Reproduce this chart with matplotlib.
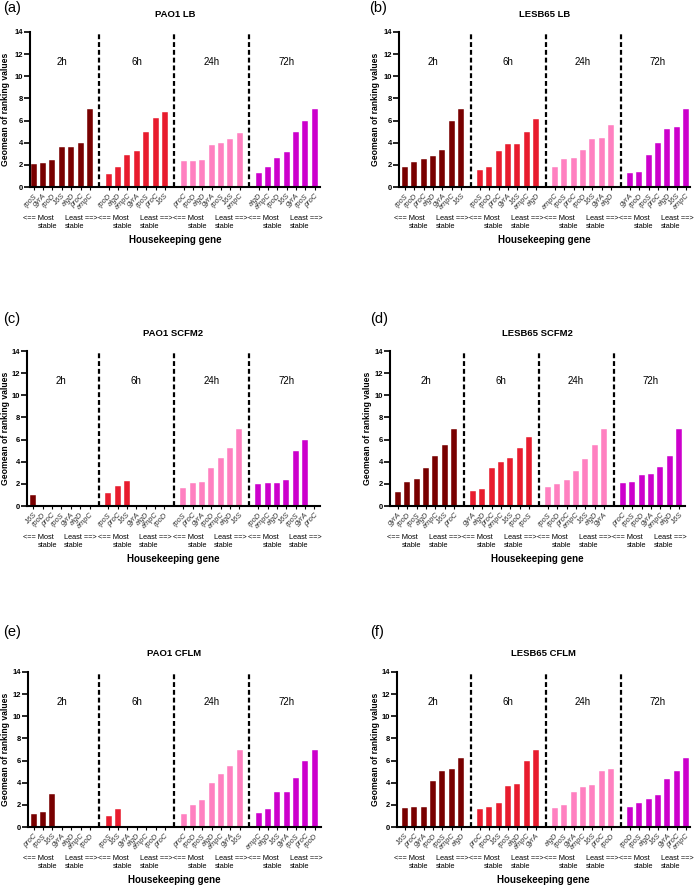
import matplotlib.pyplot as plt
import numpy as np

plt.rcParams["font.family"] = ["Liberation Sans", "DejaVu Sans"]

times = ["2h", "6h", "24h", "72h"]
colors = ["#780000", "#E81C2E", "#FF80C0", "#CC00CC"]

# genes ordered most -> least stable, one list per time point
pao1_lb_genes = [
    ["rpoS", "gyrA", "rpoD", "16S", "algD", "proC", "ampC"],
    ["rpoD", "algD", "ampC", "gyrA", "rpoS", "proC", "16S"],
    ["proC", "rpoD", "algD", "gyrA", "rpoS", "16S", "ampC"],
    ["algD", "ampC", "rpoD", "16S", "gyrA", "rpoS", "proC"],
]
pao1_lb_vals = [
    [2.1, 2.2, 2.45, 3.65, 3.65, 3.95, 7.0],
    [1.15, 1.85, 2.85, 3.25, 5.0, 6.25, 6.75],
    [2.35, 2.35, 2.45, 3.8, 3.95, 4.3, 4.85],
    [1.3, 1.85, 2.65, 3.15, 5.0, 6.0, 7.0],
]

lesb65_lb_genes = [
    ["rpoS", "rpoD", "proC", "algD", "gyrA", "ampC", "16S"],
    ["rpoS", "rpoD", "proC", "gyrA", "16S", "ampC", "algD"],
    ["ampC", "rpoS", "proC", "rpoD", "16S", "gyrA", "algD"],
    ["gyrA", "rpoD", "rpoS", "proC", "algD", "16S", "ampC"],
]
lesb65_lb_vals = [
    [1.85, 2.25, 2.5, 2.8, 3.35, 6.0, 7.0],
    [1.55, 1.85, 3.25, 3.85, 3.85, 5.0, 6.1],
    [1.85, 2.5, 2.6, 3.3, 4.3, 4.4, 5.6],
    [1.3, 1.4, 2.9, 3.95, 5.2, 5.4, 7.0],
]

pao1_scfm2_genes = [
    ["16S", "rpoD", "proC", "rpoS", "gyrA", "algD", "ampC"],
    ["rpoS", "proC", "16S", "gyrA", "algD", "ampC", "rpoD"],
    ["rpoS", "proC", "gyrA", "rpoD", "ampC", "algD", "16S"],
    ["rpoD", "ampC", "algD", "16S", "rpoS", "gyrA", "proC"],
]
pao1_scfm2_vals = [
    [1.0, 0, 0, 0, 0, 0, 0],
    [1.15, 1.85, 2.25, 0, 0, 0, 0],
    [1.65, 2.05, 2.2, 3.45, 4.35, 5.25, 7.0],
    [2.0, 2.05, 2.05, 2.35, 5.0, 6.0, 0],
]

lesb65_scfm2_genes = [
    ["gyrA", "rpoD", "rpoS", "algD", "ampC", "16S", "proC"],
    ["gyrA", "algD", "proC", "ampC", "16S", "rpoD", "rpoS"],
    ["rpoS", "rpoD", "proC", "ampC", "16S", "algD", "gyrA"],
    ["proC", "rpoS", "rpoD", "gyrA", "ampC", "algD", "16S"],
]
lesb65_scfm2_vals = [
    [1.3, 2.2, 2.45, 3.45, 4.5, 5.5, 7.0],
    [1.4, 1.55, 3.4, 4.0, 4.3, 5.25, 6.25],
    [1.7, 1.95, 2.35, 3.15, 4.25, 5.5, 7.0],
    [2.1, 2.2, 2.8, 2.9, 3.5, 4.55, 7.0],
]

pao1_cflm_genes = [
    ["proC", "rpoS", "16S", "gyrA", "algD", "ampC", "rpoD"],
    ["rpoS", "16S", "gyrA", "algD", "ampC", "rpoD", "proC"],
    ["proC", "rpoD", "rpoS", "algD", "ampC", "gyrA", "16S"],
    ["ampC", "algD", "16S", "gyrA", "rpoS", "proC", "rpoD"],
]
pao1_cflm_vals = [
    [1.15, 1.4, 3.0, 0, 0, 0, 0],
    [1.0, 1.65, 0, 0, 0, 0, 0],
    [1.15, 1.95, 2.45, 3.95, 4.8, 5.5, 7.0],
    [1.3, 1.65, 3.15, 3.2, 4.45, 6.0, 7.0],
]

lesb65_cflm_genes = [
    ["16S", "proC", "gyrA", "rpoD", "rpoS", "ampC", "algD"],
    ["proC", "rpoD", "16S", "rpoS", "algD", "ampC", "gyrA"],
    ["algD", "rpoS", "gyrA", "ampC", "16S", "proC", "rpoD"],
    ["rpoD", "rpoS", "algD", "16S", "gyrA", "proC", "ampC"],
]
lesb65_cflm_vals = [
    [1.7, 1.8, 1.8, 4.2, 5.1, 5.2, 6.2],
    [1.65, 1.8, 2.2, 3.7, 3.85, 6.0, 7.0],
    [1.7, 1.95, 3.2, 3.6, 3.8, 5.1, 5.2],
    [1.8, 2.15, 2.5, 2.9, 4.35, 5.1, 6.2],
]

panels = [
    ("(a)", "PAO1 LB", pao1_lb_genes, pao1_lb_vals),
    ("(b)", "LESB65 LB", lesb65_lb_genes, lesb65_lb_vals),
    ("(c)", "PAO1 SCFM2", pao1_scfm2_genes, pao1_scfm2_vals),
    ("(d)", "LESB65 SCFM2", lesb65_scfm2_genes, lesb65_scfm2_vals),
    ("(e)", "PAO1 CFLM", pao1_cflm_genes, pao1_cflm_vals),
    ("(f)", "LESB65 CFLM", lesb65_cflm_genes, lesb65_cflm_vals),
]

W, H = 694, 886
# pixel layout per panel: y-axis x, first bar centre, right end, top (y=14), zero line
boxes = [
    (30, 33.7, 320, 32, 187),
    (399, 405, 690, 32, 187),
    (27, 33.3, 320, 351, 506),
    (390, 398, 685, 351, 506),
    (28, 33.7, 321, 672, 827),
    (397, 405, 690, 672, 827),
]
label_xy = [(3, 8), (369, 8), (3, 319), (370, 319), (3, 632), (370, 632)]
title_y = [15, 15, 333, 333, 654, 654]
ylabel_x = [6, 376, 6, 368, 6, 375]
step = 9.37
hint_size = 5.3

fig = plt.figure(figsize=(W / 100, H / 100), dpi=100)

for k, (tag, title, genes, vals) in enumerate(panels):
    ax_x, first, right, top, zero = boxes[k]
    width_px = right - ax_x
    ax = fig.add_axes([ax_x / W, 1 - zero / H, width_px / W, (zero - top) / H])
    xt = ax.get_xaxis_transform()

    ticks, ticklabels = [], []
    for g in range(4):
        pos = g * 8 + np.arange(7)
        ax.bar(pos, vals[g], width=0.64, color=colors[g], edgecolor="white",
               linewidth=0.3, zorder=2)
        ticks.extend(pos)
        ticklabels.extend(genes[g])
        ax.text(g * 8 + 3, 11.3, times[g], ha="center", va="center", fontsize=7)
        # stability hint under each group
        ax.text(g * 8 + 2.15, -0.205, "<== Most", transform=xt,
                ha="right", va="center", fontsize=hint_size)
        ax.text(g * 8 + 0.45, -0.258, "stable", transform=xt,
                ha="left", va="center", fontsize=hint_size)
        ax.text(g * 8 + 3.3, -0.205, "Least ==>", transform=xt,
                ha="left", va="center", fontsize=hint_size)
        ax.text(g * 8 + 3.3, -0.258, "stable", transform=xt,
                ha="left", va="center", fontsize=hint_size)
        if g > 0:
            ax.plot([g * 8 - 1, g * 8 - 1], [0, 14], color="black", lw=1.6,
                    dashes=(2.2, 1.3), zorder=3, clip_on=False)

    ax.set_xlim(-(first - ax_x) / step, (right - first) / step)
    ax.set_ylim(0, 14)
    ax.set_yticks(range(0, 15, 2))
    ax.set_xticks(ticks)
    ax.set_xticklabels(ticklabels, rotation=45, ha="right", rotation_mode="anchor",
                       fontsize=5.3, style="italic", color="#333333")
    for lab in ax.get_yticklabels():
        lab.set_fontweight("bold")
    ax.tick_params(axis="y", length=4, width=1.2, labelsize=5.5, pad=1)
    ax.tick_params(axis="x", length=2.5, width=0.8, pad=1.5)
    for side in ["top", "right"]:
        ax.spines[side].set_visible(False)
    ax.spines["left"].set_linewidth(1.5)
    ax.spines["bottom"].set_linewidth(1.5)

    ax.set_title(title, fontsize=6.8, fontweight="bold", pad=0,
                 y=(zero - title_y[k]) / (zero - top), va="center")
    ax.set_ylabel("Geomean of ranking values", fontsize=6.2, fontweight="bold")
    ax.yaxis.set_label_coords((ylabel_x[k] - ax_x) / width_px, 0.5)
    ax.yaxis.label.set_va("center")
    ax.set_xlabel("Housekeeping gene", fontsize=7, fontweight="bold")
    ax.xaxis.set_label_coords(0.5, -0.342)
    ax.xaxis.label.set_va("center")

    fig.text(label_xy[k][0] / W, 1 - label_xy[k][1] / H, tag, fontsize=10.5,
             ha="left", va="center")

fig.savefig("out.png", dpi=100)
